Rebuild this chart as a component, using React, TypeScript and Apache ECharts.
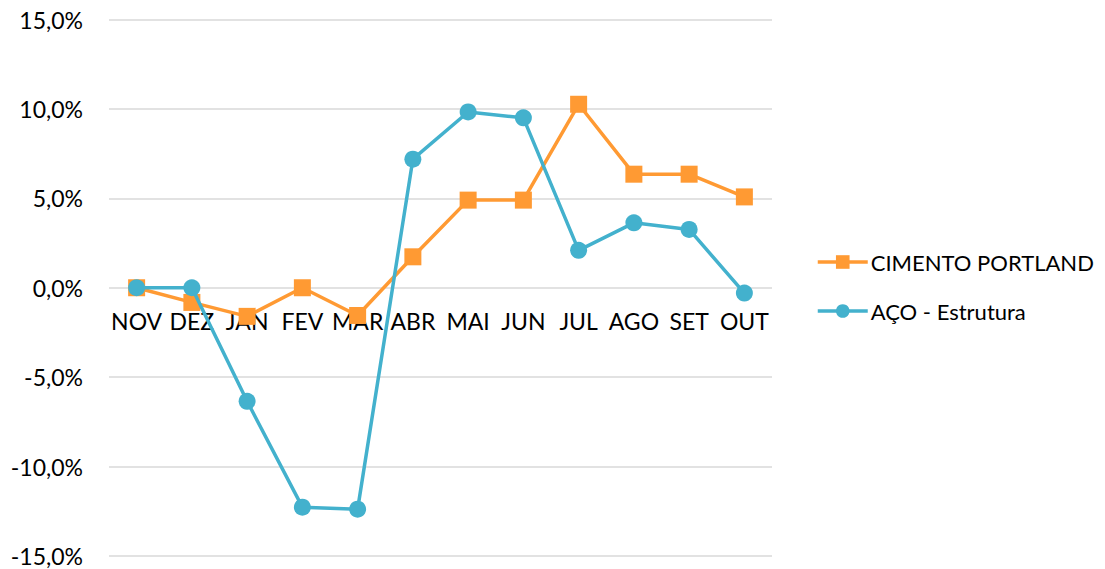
import React, { useEffect, useRef } from "react";
import * as echarts from "echarts";

const months = ["NOV", "DEZ", "JAN", "FEV", "MAR", "ABR", "MAI", "JUN", "JUL", "AGO", "SET", "OUT"];
const cimentoPortland = [0, -0.82, -1.6, 0, -1.55, 1.73, 4.9, 4.9, 10.26, 6.35, 6.35, 5.08];
const acoEstrutura = [0, 0, -6.35, -12.27, -12.38, 7.19, 9.83, 9.5, 2.09, 3.63, 3.26, -0.3];
const yTicks = { min: -15, max: 15, interval: 5 };

const FONT = "Lato, 'Open Sans', sans-serif";
const ORANGE = "#FF9A33";
const BLUE = "#43B1CD";
const FS = 23;
const GRID_TOP = 19.5;
const GRID_BOTTOM = 13;
const CHART_H = 569;

export default function App() {
  const ref = useRef<HTMLDivElement>(null);
  useEffect(() => {
    if (!ref.current) return;
    const chart = echarts.init(ref.current, undefined, { renderer: "svg" });
    const gridH = CHART_H - GRID_TOP - GRID_BOTTOM;
    // distance from bottom of grid to the zero line (for placing category labels at y = 0)
    const zeroOffset = (gridH * (0 - yTicks.min)) / (yTicks.max - yTicks.min);
    chart.setOption({
      animation: false,
      textStyle: { fontFamily: FONT },
      grid: {
        left: 109,
        right: 333,
        top: GRID_TOP,
        bottom: GRID_BOTTOM,
        containLabel: false,
        outerBoundsMode: "none",
      },
      xAxis: {
        type: "category",
        data: months,
        boundaryGap: true,
        offset: -zeroOffset,
        axisLine: { show: false, onZero: false },
        axisTick: { show: false },
        axisLabel: { color: "#000", fontSize: FS, fontFamily: FONT, margin: 22, interval: 0 },
      },
      yAxis: {
        type: "value",
        min: yTicks.min,
        max: yTicks.max,
        interval: yTicks.interval,
        axisLine: { show: false },
        axisTick: { show: false },
        splitLine: { lineStyle: { color: "#D9D9D9", width: 1.5 } },
        axisLabel: {
          color: "#000",
          fontSize: FS,
          fontFamily: FONT,
          margin: 26,
          formatter: (v: number) => v.toFixed(1).replace(".", ",") + "%",
        },
      },
      legend: {
        orient: "vertical",
        left: 811,
        top: 246,
        itemWidth: 50,
        itemHeight: 17,
        itemGap: 27,
        lineStyle: { width: 3.5 },
        textStyle: { color: "#000", fontSize: 22, fontFamily: FONT, padding: [0, 0, 0, -2] },
        data: ["CIMENTO PORTLAND", "AÇO - Estrutura"],
      },
      series: [
        {
          name: "CIMENTO PORTLAND",
          type: "line",
          data: cimentoPortland,
          symbol: "rect",
          symbolSize: 17,
          lineStyle: { color: ORANGE, width: 3.5 },
          itemStyle: { color: ORANGE },
          z: 2,
        },
        {
          name: "AÇO - Estrutura",
          type: "line",
          data: acoEstrutura,
          symbol: "circle",
          symbolSize: 17,
          lineStyle: { color: BLUE, width: 3.5 },
          itemStyle: { color: BLUE },
          z: 3,
        },
      ],
    });
    return () => chart.dispose();
  }, []);
  return (
    <div
      ref={ref}
      style={{ position: "absolute", left: 0, top: 0, width: 1105, height: 569, background: "#fff" }}
    />
  );
}
